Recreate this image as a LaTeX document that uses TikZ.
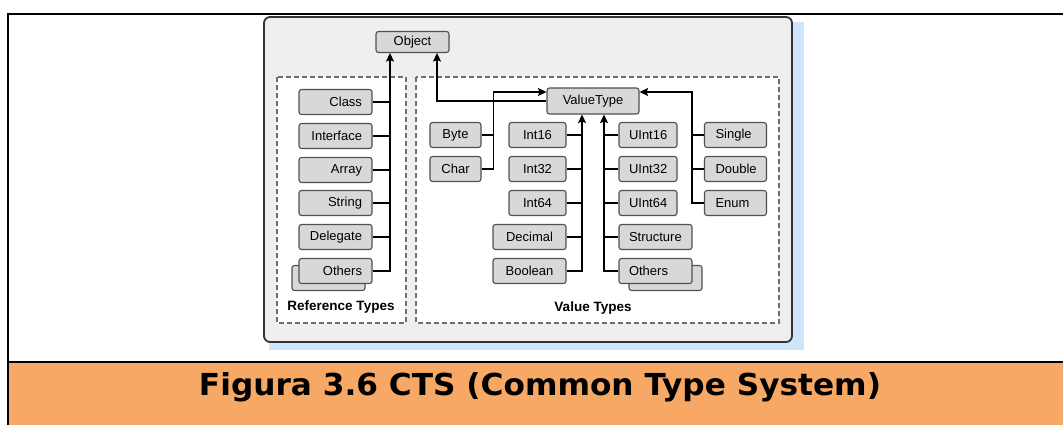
\documentclass[tikz,border=0pt]{standalone}
\usepackage{fontspec}
\setmainfont{Liberation Sans}
\newfontfamily\titlefont{DejaVu Sans}
\usetikzlibrary{arrows.meta}
\definecolor{orangeband}{HTML}{F7A864}
\definecolor{shadowblue}{HTML}{CFE5FB}
\definecolor{framefill}{HTML}{EFEFEF}
\definecolor{boxfill}{HTML}{D8D8D8}
\definecolor{boxline}{HTML}{505050}
\definecolor{dashline}{HTML}{707070}
\begin{document}
\begin{tikzpicture}[x=1pt,y=-1pt,
  tbox/.style={draw=boxline, fill=boxfill, rounded corners=2.5pt, line width=1.1pt,
    minimum height=25pt, inner ysep=0pt, inner xsep=10pt,
    font=\fontsize{13}{14}\selectfont},
  rbox/.style={tbox, minimum width=73pt, text width=53pt, align=right},
  cbox/.style={tbox, align=center},
  lbox/.style={tbox, align=left},
  grouplabel/.style={font=\fontsize{13.5}{15}\selectfont\bfseries},
  conn/.style={line width=1.5pt},
  arr/.style={conn, -{Stealth[length=8.5pt,width=8pt,inset=1.5pt]}},
  dbox/.style={draw=dashline, dash pattern=on 5pt off 3pt, line width=1.3pt, fill=white}]
\useasboundingbox (0,0) rectangle (1063,425);
% page frame
\fill[orangeband] (8,362) rectangle (1063,425);
\draw[line width=2pt] (8,14) -- (1063,14);
\draw[line width=2.5pt] (8,362) -- (1063,362);
\draw[line width=2pt] (8,13) -- (8,425);
% figure frame
\fill[shadowblue] (269,22) rectangle (804,350);
\draw[draw=black!80, line width=1.8pt, fill=framefill, rounded corners=6pt] (264,17) rectangle (792,342);
\draw[dbox] (277,77) rectangle (406,323);
\draw[dbox] (416,77) rectangle (779,323);
% nodes
\node[tbox, minimum width=73pt, minimum height=21pt] (obj) at (412.5,42) {Object};
\node[tbox, minimum width=92pt, minimum height=26pt] (vt) at (593,101) {ValueType};
% reference types
\node[rbox] (class) at (335.5,102) {Class};
\node[rbox] (iface) at (335.5,136) {Interface};
\node[rbox] (array) at (335.5,170) {Array};
\node[rbox] (string) at (335.5,203) {String};
\node[rbox] (deleg) at (335.5,237) {Delegate};
\node[rbox] (rothersb) at (328.5,278) {\phantom{Others}};
\node[rbox] (rothers) at (335.5,271) {Others};
\node[grouplabel] (rlabel) at (341,307) {Reference Types};
% value types
\node[cbox, minimum width=51pt, text width=31pt] (byte) at (455.5,135) {Byte};
\node[cbox, minimum width=51pt, text width=31pt] (char) at (455.5,169) {Char};
\node[cbox, minimum width=57pt, text width=37pt] (i16) at (537.5,135) {Int16};
\node[cbox, minimum width=57pt, text width=37pt] (i32) at (537.5,169) {Int32};
\node[cbox, minimum width=57pt, text width=37pt] (i64) at (537.5,203) {Int64};
\node[cbox, minimum width=73pt, text width=53pt] (dec) at (529.5,237) {Decimal};
\node[cbox, minimum width=73pt, text width=53pt] (bool) at (529.5,271) {Boolean};
\node[lbox, minimum width=58pt, text width=38pt] (u16) at (648,135) {UInt16};
\node[lbox, minimum width=58pt, text width=38pt] (u32) at (648,169) {UInt32};
\node[lbox, minimum width=58pt, text width=38pt] (u64) at (648,203) {UInt64};
\node[lbox, minimum width=73pt, text width=53pt] (struct) at (655.5,237) {Structure};
\node[lbox, minimum width=73pt, text width=53pt] (vothersb) at (665.5,278) {\phantom{Others}};
\node[lbox, minimum width=73pt, text width=53pt] (vothers) at (655.5,271) {Others};
\node[lbox, minimum width=61pt, text width=40pt, inner xsep=11pt] (single) at (735.5,135) {Single};
\node[lbox, minimum width=61pt, text width=40pt, inner xsep=11pt] (double) at (735.5,169) {Double};
\node[lbox, minimum width=61pt, text width=40pt, inner xsep=11pt] (enum) at (735.5,203) {Enum};
\node[grouplabel] (vlabel) at (593,308) {Value Types};
% connectors: reference types
\draw[arr] (rothers.east) -| ([xshift=-22.5pt]obj.south);
\foreach \n in {class,iface,array,string,deleg} \draw[conn] (\n.east) -- ++(18,0);
\draw[arr] (vt.west) -| ([xshift=24.5pt]obj.south);
% value types
\draw[arr] (char.east) -- ++(12,0) |- ([yshift=9pt]vt.west);
\draw[conn] (byte.east) -- ++(12,0);
\draw[arr] (bool.east) -| ([xshift=-11pt]vt.south);
\foreach \n in {i16,i32,i64,dec} \draw[conn] (\n.east) -- ++(16,0);
\draw[arr] (vothers.west) -| ([xshift=11pt]vt.south);
\foreach \n in {u16,u32,u64,struct} \draw[conn] (\n.west) -- ++(-15,0);
\draw[arr] (enum.west) -- ++(-12,0) |- ([yshift=9pt]vt.east);
\foreach \n in {single,double} \draw[conn] (\n.west) -- ++(-12,0);
% caption
\node[anchor=base] (title) at (540,395) {\resizebox{682pt}{23pt}{\titlefont\bfseries Figura 3.6 CTS (Common Type System)}};
\end{tikzpicture}
\end{document}
